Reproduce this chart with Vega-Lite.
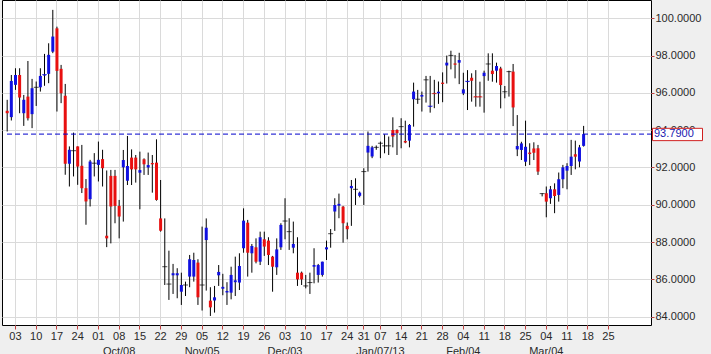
{
  "$schema": "https://vega.github.io/schema/vega-lite/v6.json",
  "autosize": {"type": "none"},
  "width": 649,
  "height": 325,
  "padding": {"left": 2, "top": 0, "right": 60, "bottom": 29},
  "background": "#efefef",
  "view": {"fill": "#ffffff", "stroke": "#000000", "strokeWidth": 1},
  "config": {
    "font": "Liberation Sans",
    "axis": {"labelFont": "Liberation Sans", "labelFontSize": 11, "labelColor": "#2a2a2a", "gridColor": "#dadada", "gridWidth": 1, "tickColor": "#c04040", "domain": false, "title": null}
  },
  "datasets": {
    "marker": [{"v": 93.79, "top": 94.10, "bottom": 93.44, "label": "93.7900"}]
  },
  "data": {"values": [
    {"d":"2012-08-30","o":95.04,"h":95.63,"l":93.93,"c":94.91},
    {"d":"2012-08-31","o":94.70,"h":96.96,"l":94.52,"c":96.64},
    {"d":"2012-09-03","o":96.43,"h":97.32,"l":96.16,"c":96.96},
    {"d":"2012-09-04","o":96.96,"h":97.32,"l":94.91,"c":95.75},
    {"d":"2012-09-05","o":94.91,"h":95.89,"l":94.23,"c":95.63},
    {"d":"2012-09-06","o":95.80,"h":97.71,"l":94.52,"c":94.64},
    {"d":"2012-09-07","o":94.86,"h":96.75,"l":94.11,"c":96.25},
    {"d":"2012-09-10","o":96.30,"h":96.61,"l":95.30,"c":96.30},
    {"d":"2012-09-11","o":96.30,"h":97.32,"l":96.07,"c":96.91},
    {"d":"2012-09-12","o":96.93,"h":98.09,"l":96.38,"c":96.98},
    {"d":"2012-09-13","o":97.02,"h":98.66,"l":96.52,"c":98.04},
    {"d":"2012-09-14","o":98.21,"h":100.45,"l":98.13,"c":99.02},
    {"d":"2012-09-17","o":99.46,"h":99.55,"l":95.00,"c":97.18},
    {"d":"2012-09-18","o":97.29,"h":97.50,"l":95.45,"c":95.98},
    {"d":"2012-09-19","o":95.84,"h":96.48,"l":91.61,"c":92.20},
    {"d":"2012-09-20","o":92.20,"h":93.13,"l":90.98,"c":92.95},
    {"d":"2012-09-21","o":92.90,"h":93.87,"l":91.52,"c":92.90},
    {"d":"2012-09-24","o":93.13,"h":93.13,"l":91.07,"c":92.05},
    {"d":"2012-09-25","o":92.09,"h":93.21,"l":90.63,"c":90.89},
    {"d":"2012-09-26","o":90.89,"h":91.38,"l":88.93,"c":90.18},
    {"d":"2012-09-27","o":90.30,"h":92.41,"l":89.91,"c":92.32},
    {"d":"2012-09-28","o":92.23,"h":92.77,"l":91.52,"c":92.23},
    {"d":"2012-10-01","o":92.14,"h":93.39,"l":91.25,"c":92.41},
    {"d":"2012-10-02","o":92.45,"h":92.95,"l":90.98,"c":91.96},
    {"d":"2012-10-03","o":88.34,"h":91.84,"l":87.73,"c":88.20},
    {"d":"2012-10-04","o":91.55,"h":91.87,"l":87.93,"c":89.91},
    {"d":"2012-10-05","o":91.55,"h":91.87,"l":89.01,"c":89.94},
    {"d":"2012-10-08","o":89.94,"h":90.26,"l":88.20,"c":89.37},
    {"d":"2012-10-09","o":92.01,"h":92.94,"l":89.10,"c":92.40},
    {"d":"2012-10-10","o":91.29,"h":93.69,"l":91.06,"c":92.08},
    {"d":"2012-10-11","o":92.53,"h":92.97,"l":91.06,"c":91.90},
    {"d":"2012-10-12","o":92.53,"h":92.67,"l":91.19,"c":91.90},
    {"d":"2012-10-15","o":91.72,"h":92.85,"l":89.76,"c":91.86},
    {"d":"2012-10-16","o":92.44,"h":92.49,"l":91.60,"c":92.17},
    {"d":"2012-10-17","o":92.00,"h":92.80,"l":91.60,"c":92.13},
    {"d":"2012-10-18","o":92.24,"h":92.67,"l":90.65,"c":92.17},
    {"d":"2012-10-19","o":92.26,"h":93.51,"l":90.22,"c":90.26},
    {"d":"2012-10-22","o":89.27,"h":91.33,"l":88.56,"c":88.61},
    {"d":"2012-10-23","o":86.68,"h":89.27,"l":85.70,"c":86.68},
    {"d":"2012-10-24","o":85.75,"h":87.54,"l":84.90,"c":85.75},
    {"d":"2012-10-25","o":86.22,"h":86.83,"l":85.22,"c":86.33},
    {"d":"2012-10-26","o":86.22,"h":86.60,"l":84.99,"c":86.33},
    {"d":"2012-10-29","o":85.34,"h":86.36,"l":84.63,"c":85.70},
    {"d":"2012-10-30","o":85.70,"h":85.88,"l":85.11,"c":85.70},
    {"d":"2012-10-31","o":86.15,"h":87.31,"l":85.58,"c":87.08},
    {"d":"2012-11-01","o":86.15,"h":87.43,"l":85.88,"c":87.04},
    {"d":"2012-11-02","o":86.90,"h":87.08,"l":84.63,"c":85.04},
    {"d":"2012-11-05","o":85.70,"h":88.83,"l":84.33,"c":85.70},
    {"d":"2012-11-06","o":88.11,"h":89.27,"l":85.40,"c":88.77},
    {"d":"2012-11-07","o":84.86,"h":85.58,"l":84.04,"c":84.50},
    {"d":"2012-11-08","o":84.87,"h":85.65,"l":84.22,"c":85.04},
    {"d":"2012-11-09","o":86.22,"h":86.77,"l":85.65,"c":86.40},
    {"d":"2012-11-12","o":85.50,"h":86.30,"l":85.15,"c":85.60},
    {"d":"2012-11-13","o":85.30,"h":85.85,"l":84.63,"c":85.38},
    {"d":"2012-11-14","o":85.29,"h":86.68,"l":84.93,"c":86.24},
    {"d":"2012-11-15","o":85.85,"h":87.22,"l":85.11,"c":85.95},
    {"d":"2012-11-16","o":85.83,"h":87.40,"l":85.43,"c":86.72},
    {"d":"2012-11-19","o":87.67,"h":89.81,"l":87.43,"c":89.15},
    {"d":"2012-11-20","o":89.04,"h":89.19,"l":86.15,"c":87.43},
    {"d":"2012-11-21","o":87.40,"h":87.90,"l":86.36,"c":87.79},
    {"d":"2012-11-22","o":87.72,"h":88.20,"l":86.86,"c":86.95},
    {"d":"2012-11-23","o":86.95,"h":88.56,"l":86.77,"c":88.26},
    {"d":"2012-11-26","o":88.15,"h":88.56,"l":87.26,"c":87.76},
    {"d":"2012-11-27","o":88.08,"h":88.26,"l":86.77,"c":87.31},
    {"d":"2012-11-28","o":87.22,"h":87.26,"l":85.34,"c":86.68},
    {"d":"2012-11-29","o":86.65,"h":88.20,"l":86.24,"c":87.61},
    {"d":"2012-11-30","o":87.72,"h":89.01,"l":87.58,"c":88.92},
    {"d":"2012-12-03","o":89.13,"h":90.35,"l":88.15,"c":89.13},
    {"d":"2012-12-04","o":88.56,"h":89.28,"l":87.58,"c":88.56},
    {"d":"2012-12-05","o":87.70,"h":89.10,"l":87.40,"c":87.90},
    {"d":"2012-12-06","o":86.36,"h":88.26,"l":85.65,"c":86.00},
    {"d":"2012-12-07","o":86.36,"h":86.42,"l":85.70,"c":86.00},
    {"d":"2012-12-10","o":85.65,"h":86.24,"l":85.52,"c":85.65},
    {"d":"2012-12-11","o":85.83,"h":86.36,"l":85.22,"c":85.83},
    {"d":"2012-12-12","o":86.68,"h":87.67,"l":85.79,"c":86.77},
    {"d":"2012-12-13","o":86.24,"h":86.83,"l":85.83,"c":86.77},
    {"d":"2012-12-14","o":86.24,"h":86.95,"l":86.15,"c":86.95},
    {"d":"2012-12-17","o":87.61,"h":88.08,"l":87.04,"c":87.72},
    {"d":"2012-12-18","o":88.45,"h":88.70,"l":87.70,"c":88.45},
    {"d":"2012-12-19","o":89.64,"h":90.35,"l":88.60,"c":89.99},
    {"d":"2012-12-20","o":89.95,"h":90.60,"l":89.28,"c":90.05},
    {"d":"2012-12-21","o":89.90,"h":89.94,"l":87.97,"c":89.01},
    {"d":"2012-12-24","o":88.87,"h":89.05,"l":88.15,"c":88.69},
    {"d":"2012-12-26","o":90.89,"h":91.33,"l":88.87,"c":91.01},
    {"d":"2012-12-27","o":90.83,"h":91.42,"l":89.99,"c":90.83},
    {"d":"2012-12-28","o":90.48,"h":90.71,"l":90.40,"c":90.65},
    {"d":"2012-12-31","o":91.78,"h":91.96,"l":89.99,"c":91.78},
    {"d":"2013-01-02","o":92.80,"h":93.93,"l":91.78,"c":93.16},
    {"d":"2013-01-03","o":92.59,"h":93.16,"l":92.50,"c":93.08},
    {"d":"2013-01-04","o":93.08,"h":93.18,"l":92.95,"c":93.08},
    {"d":"2013-01-07","o":93.30,"h":93.39,"l":92.50,"c":93.30},
    {"d":"2013-01-08","o":93.16,"h":93.78,"l":92.76,"c":93.16},
    {"d":"2013-01-09","o":93.16,"h":93.66,"l":92.67,"c":93.16},
    {"d":"2013-01-10","o":94.01,"h":94.69,"l":93.08,"c":93.66},
    {"d":"2013-01-11","o":94.01,"h":94.05,"l":92.67,"c":93.84},
    {"d":"2013-01-14","o":94.19,"h":94.64,"l":93.03,"c":94.19},
    {"d":"2013-01-15","o":93.42,"h":94.51,"l":93.30,"c":93.34},
    {"d":"2013-01-16","o":93.44,"h":94.33,"l":93.08,"c":94.28},
    {"d":"2013-01-17","o":95.66,"h":96.55,"l":94.19,"c":96.07},
    {"d":"2013-01-18","o":95.66,"h":96.16,"l":95.41,"c":95.66},
    {"d":"2013-01-21","o":95.80,"h":96.07,"l":95.00,"c":95.89},
    {"d":"2013-01-22","o":96.70,"h":96.91,"l":95.48,"c":96.70},
    {"d":"2013-01-23","o":95.25,"h":96.91,"l":94.94,"c":95.29},
    {"d":"2013-01-24","o":96.00,"h":96.70,"l":95.18,"c":95.96},
    {"d":"2013-01-25","o":95.98,"h":96.61,"l":95.41,"c":96.06},
    {"d":"2013-01-28","o":96.55,"h":97.10,"l":95.50,"c":96.48},
    {"d":"2013-01-29","o":97.47,"h":98.00,"l":96.50,"c":97.62},
    {"d":"2013-01-30","o":98.01,"h":98.26,"l":97.26,"c":98.01},
    {"d":"2013-01-31","o":97.58,"h":98.03,"l":96.78,"c":97.51},
    {"d":"2013-02-01","o":97.62,"h":98.15,"l":96.47,"c":97.76},
    {"d":"2013-02-04","o":95.97,"h":97.08,"l":95.88,"c":96.19},
    {"d":"2013-02-05","o":96.58,"h":97.22,"l":95.08,"c":96.62},
    {"d":"2013-02-06","o":96.81,"h":97.05,"l":95.53,"c":96.65},
    {"d":"2013-02-07","o":95.82,"h":97.22,"l":95.26,"c":95.78},
    {"d":"2013-02-08","o":95.82,"h":96.60,"l":95.26,"c":95.78},
    {"d":"2013-02-11","o":96.90,"h":97.19,"l":94.94,"c":97.08},
    {"d":"2013-02-12","o":97.55,"h":98.12,"l":96.65,"c":97.55},
    {"d":"2013-02-13","o":97.19,"h":98.12,"l":96.60,"c":97.01},
    {"d":"2013-02-14","o":97.19,"h":97.62,"l":96.55,"c":97.44},
    {"d":"2013-02-15","o":97.31,"h":97.40,"l":95.17,"c":96.42},
    {"d":"2013-02-18","o":96.06,"h":96.37,"l":95.71,"c":96.06},
    {"d":"2013-02-19","o":97.14,"h":97.19,"l":95.80,"c":97.14},
    {"d":"2013-02-20","o":97.14,"h":97.55,"l":94.22,"c":95.22},
    {"d":"2013-02-21","o":92.97,"h":94.81,"l":92.61,"c":93.15},
    {"d":"2013-02-22","o":92.94,"h":93.38,"l":92.40,"c":93.29},
    {"d":"2013-02-25","o":92.31,"h":94.51,"l":92.08,"c":93.11},
    {"d":"2013-02-26","o":92.80,"h":93.30,"l":92.13,"c":92.72},
    {"d":"2013-02-27","o":93.02,"h":93.35,"l":92.40,"c":92.79},
    {"d":"2013-02-28","o":93.03,"h":93.21,"l":91.60,"c":91.78},
    {"d":"2013-03-01","o":90.60,"h":90.62,"l":90.45,"c":90.60},
    {"d":"2013-03-04","o":90.62,"h":90.98,"l":89.33,"c":90.17},
    {"d":"2013-03-05","o":90.35,"h":91.01,"l":90.05,"c":90.83},
    {"d":"2013-03-06","o":90.83,"h":91.15,"l":89.55,"c":90.47},
    {"d":"2013-03-07","o":90.53,"h":91.73,"l":90.17,"c":91.37},
    {"d":"2013-03-08","o":91.37,"h":92.14,"l":90.89,"c":92.01},
    {"d":"2013-03-11","o":91.83,"h":92.23,"l":90.83,"c":92.08},
    {"d":"2013-03-12","o":92.08,"h":93.48,"l":91.60,"c":92.58},
    {"d":"2013-03-13","o":92.71,"h":93.44,"l":91.90,"c":92.58},
    {"d":"2013-03-14","o":92.32,"h":93.21,"l":92.01,"c":93.08},
    {"d":"2013-03-15","o":93.16,"h":94.23,"l":93.12,"c":93.79}
  ]},
  "encoding": {
    "x": {
      "field": "d", "type": "ordinal",
      "scale": {"type": "band", "paddingInner": 0, "paddingOuter": 0.75, "domain": [
        "2012-08-30","2012-08-31",
        "2012-09-03","2012-09-04","2012-09-05","2012-09-06","2012-09-07","2012-09-10","2012-09-11","2012-09-12","2012-09-13","2012-09-14","2012-09-17","2012-09-18","2012-09-19","2012-09-20","2012-09-21","2012-09-24","2012-09-25","2012-09-26","2012-09-27","2012-09-28",
        "2012-10-01","2012-10-02","2012-10-03","2012-10-04","2012-10-05","2012-10-08","2012-10-09","2012-10-10","2012-10-11","2012-10-12","2012-10-15","2012-10-16","2012-10-17","2012-10-18","2012-10-19","2012-10-22","2012-10-23","2012-10-24","2012-10-25","2012-10-26","2012-10-29","2012-10-30","2012-10-31",
        "2012-11-01","2012-11-02","2012-11-05","2012-11-06","2012-11-07","2012-11-08","2012-11-09","2012-11-12","2012-11-13","2012-11-14","2012-11-15","2012-11-16","2012-11-19","2012-11-20","2012-11-21","2012-11-22","2012-11-23","2012-11-26","2012-11-27","2012-11-28","2012-11-29","2012-11-30",
        "2012-12-03","2012-12-04","2012-12-05","2012-12-06","2012-12-07","2012-12-10","2012-12-11","2012-12-12","2012-12-13","2012-12-14","2012-12-17","2012-12-18","2012-12-19","2012-12-20","2012-12-21","2012-12-24","2012-12-26","2012-12-27","2012-12-28","2012-12-31",
        "2013-01-02","2013-01-03","2013-01-04","2013-01-07","2013-01-08","2013-01-09","2013-01-10","2013-01-11","2013-01-14","2013-01-15","2013-01-16","2013-01-17","2013-01-18","2013-01-21","2013-01-22","2013-01-23","2013-01-24","2013-01-25","2013-01-28","2013-01-29","2013-01-30","2013-01-31",
        "2013-02-01","2013-02-04","2013-02-05","2013-02-06","2013-02-07","2013-02-08","2013-02-11","2013-02-12","2013-02-13","2013-02-14","2013-02-15","2013-02-18","2013-02-19","2013-02-20","2013-02-21","2013-02-22","2013-02-25","2013-02-26","2013-02-27","2013-02-28",
        "2013-03-01","2013-03-04","2013-03-05","2013-03-06","2013-03-07","2013-03-08","2013-03-11","2013-03-12","2013-03-13","2013-03-14","2013-03-15","2013-03-18","2013-03-19","2013-03-20","2013-03-21","2013-03-22","2013-03-25","2013-03-26","2013-03-27","2013-03-28","2013-03-29",
        "2013-04-01","2013-04-02","2013-04-03","2013-04-04","2013-04-05"
      ]},
      "axis": {
        "orient": "bottom",
        "values": ["2012-09-03","2012-09-10","2012-09-17","2012-09-24","2012-10-01","2012-10-08","2012-10-15","2012-10-22","2012-10-29","2012-11-05","2012-11-12","2012-11-19","2012-11-26","2012-12-03","2012-12-10","2012-12-17","2012-12-24","2012-12-31","2013-01-07","2013-01-14","2013-01-21","2013-01-28","2013-02-04","2013-02-11","2013-02-18","2013-02-25","2013-03-04","2013-03-11","2013-03-18","2013-03-25"],
        "labelExpr": "[slice(datum.value, 8), datum.value == '2012-10-08' ? 'Oct/08' : datum.value == '2012-11-05' ? 'Nov/05' : datum.value == '2012-12-03' ? 'Dec/03' : datum.value == '2013-01-07' ? 'Jan/07/13' : datum.value == '2013-02-04' ? 'Feb/04' : datum.value == '2013-03-04' ? 'Mar/04' : '']",
        "bandPosition": 0.5,
        "grid": true,
        "tickSize": 4,
        "labelPadding": 1,
        "labelAngle": 0,
        "labelLineHeight": 15,
        "labelOverlap": false,
        "labelBound": false
      }
    }
  },
  "layer": [
    {
      "mark": {"type": "rule", "color": "#000000", "strokeWidth": 1},
      "encoding": {
        "y": {"field": "l", "type": "quantitative",
          "scale": {"domain": [83.555, 100.98], "nice": false, "zero": false},
          "axis": {"orient": "right", "values": [84, 86, 88, 90, 92, 94, 96, 98, 100], "format": ".4f", "grid": true, "tickSize": 3, "labelPadding": 1, "labelBaseline": "middle"}},
        "y2": {"field": "h"}
      }
    },
    {
      "mark": {"type": "bar", "size": 3},
      "encoding": {
        "y": {"field": "o", "type": "quantitative"},
        "y2": {"field": "c"},
        "color": {"condition": [{"test": "datum.c > datum.o", "value": "#1010e0"}, {"test": "datum.c < datum.o", "value": "#e81010"}], "value": "#000000"}
      }
    },
    {
      "transform": [{"filter": "abs(datum.o - datum.c) < 0.06"}],
      "mark": {"type": "tick", "thickness": 1, "size": 5},
      "encoding": {
        "y": {"field": "c", "type": "quantitative"},
        "color": {"condition": [{"test": "datum.c > datum.o", "value": "#1010e0"}, {"test": "datum.c < datum.o", "value": "#c02020"}], "value": "#000000"}
      }
    },
    {
      "data": {"name": "marker"},
      "mark": {"type": "rule", "color": "#0000cc", "strokeWidth": 1, "strokeDash": [5, 3]},
      "encoding": {
        "x": {"value": 5},
        "x2": {"value": "width"},
        "y": {"field": "v", "type": "quantitative"}
      }
    },
    {
      "data": {"name": "marker"},
      "mark": {"type": "rect", "fill": "#ffffff", "stroke": "#d02020", "strokeWidth": 1},
      "encoding": {
        "x": {"value": {"expr": "width + 1.5"}},
        "x2": {"value": {"expr": "width + 51.5"}},
        "y": {"field": "top", "type": "quantitative"},
        "y2": {"field": "bottom"}
      }
    },
    {
      "data": {"name": "marker"},
      "mark": {"type": "text", "color": "#1a1ab0", "fontSize": 11, "align": "left", "baseline": "middle", "font": "Liberation Sans"},
      "encoding": {
        "x": {"value": {"expr": "width + 3"}},
        "y": {"field": "v", "type": "quantitative"},
        "text": {"field": "label"}
      }
    }
  ]
}
